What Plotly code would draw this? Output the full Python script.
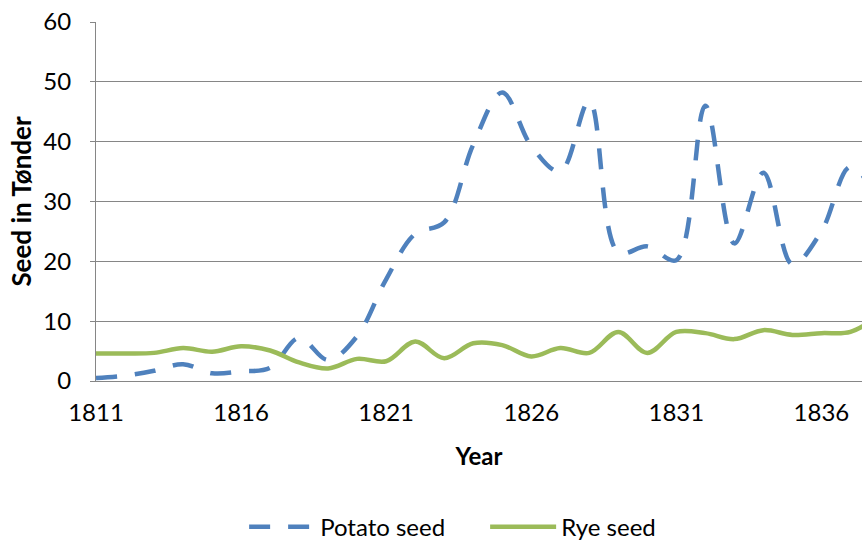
import plotly.graph_objects as go

years = list(range(1811, 1839))
potato_seed = [0.5, 0.9, 1.7, 2.8, 1.3, 1.6, 2.2, 7.2, 3.5, 7.5,
               17.0, 24.6, 26.5, 39.5, 48.2, 39.3, 35.0, 46.8, 21.5, 22.5,
               20.2, 46.0, 23.0, 34.8, 19.5, 25.0, 35.8, 30.0]
rye_seed = [4.6, 4.6, 4.7, 5.5, 4.9, 5.8, 5.1, 3.1, 2.1, 3.7,
            3.3, 6.6, 3.8, 6.3, 6.0, 4.1, 5.5, 4.7, 8.2, 4.7,
            8.2, 8.0, 7.0, 8.5, 7.7, 8.0, 8.2, 11.0]
x_tick_years = [1811, 1816, 1821, 1826, 1831, 1836]
y_ticks = [0, 10, 20, 30, 40, 50, 60]

FONT = "Lato, 'Open Sans', sans-serif"
GRID = "#868686"

fig = go.Figure()
fig.add_trace(go.Scatter(
    x=years, y=potato_seed, name="Potato seed", mode="lines",
    line=dict(color="#4F81BD", width=4.5, dash="21px,18px", shape="spline", smoothing=1.0),
))
fig.add_trace(go.Scatter(
    x=years, y=rye_seed, name="Rye seed", mode="lines",
    line=dict(color="#9BBB59", width=4.5, shape="spline", smoothing=1.0),
))

fig.update_layout(
    width=862, height=541,
    margin=dict(l=96, r=0, t=22, b=160, autoexpand=False),
    paper_bgcolor="white", plot_bgcolor="white",
    font=dict(family=FONT, size=24, color="black"),
    showlegend=True,
    legend=dict(orientation="h", x=0.508, xanchor="center", y=-0.407, yanchor="middle",
                itemwidth=66, entrywidth=160, font=dict(size=24), traceorder="normal"),
    xaxis=dict(
        range=[1811, 1837.4], tickvals=x_tick_years, ticktext=[str(v) for v in x_tick_years],
        showgrid=False, zeroline=False, showline=True, linecolor=GRID, linewidth=1,
        ticks="", ticklabelstandoff=10, automargin=False,
        title=dict(text="<b>Year</b>", font=dict(size=24), standoff=23),
    ),
    yaxis=dict(
        range=[0, 60], tickvals=y_ticks, showgrid=True, gridcolor=GRID, gridwidth=1,
        zeroline=False, showline=True, linecolor=GRID, linewidth=1,
        ticks="outside", ticklen=5, tickcolor=GRID, ticklabelstandoff=14, automargin=False,
        title=dict(text="<b>Seed in Tønder</b>", font=dict(size=26), standoff=4),
    ),
)

fig.write_html("out.html", config={"displayModeBar": False},
               post_script="document.body.style.margin='0';document.body.style.overflow='hidden';")
